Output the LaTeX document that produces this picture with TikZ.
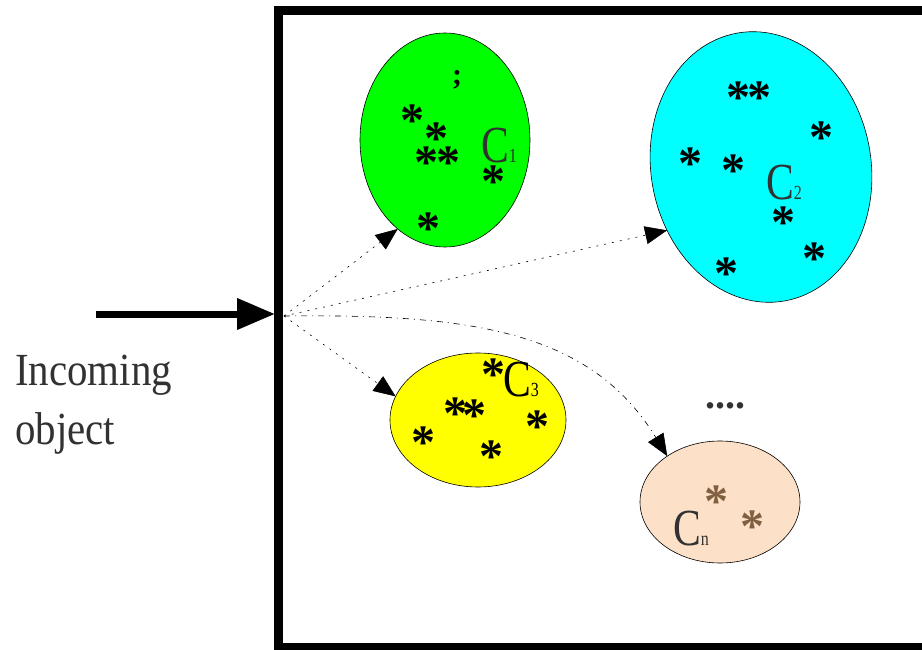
\documentclass[tikz,border=0pt]{standalone}
\usepackage{fontspec}
\setmainfont{Liberation Serif}
\usetikzlibrary{arrows.meta,shapes.geometric}
\definecolor{peach}{RGB}{252,224,200}
\definecolor{aqua}{RGB}{0,255,255}
\definecolor{lime}{RGB}{0,255,0}
\definecolor{lemon}{RGB}{255,255,0}
\definecolor{starbrown}{RGB}{128,96,64}
\definecolor{labelgray}{RGB}{50,50,50}
\begin{document}
\begin{tikzpicture}[x=1pt,y=-1pt,
  cluster/.style={ellipse,draw=black,line width=0.6pt,inner sep=0pt,outer sep=0pt},
  star/.style={font=\bfseries\fontsize{48}{48}\selectfont,anchor=base,yshift=-22pt,inner sep=0pt},
  clabel/.style={font=\fontsize{52}{52}\selectfont,xscale=0.8,anchor=base west,inner sep=0pt,text=labelgray},
  probe/.style={line width=0.6pt,dash pattern=on 2pt off 6pt,
    -{Triangle[length=22pt,width=18pt]}},
  bigarrow/.style={line width=7pt,-{Triangle[length=38pt,width=30pt]}},
]
\newcommand{\subtxt}[1]{{\fontsize{20}{20}\selectfont #1}}
\useasboundingbox (0,0) rectangle (922,650);

% frame of the classifier
\draw[line width=8.5pt] (278.5,10.5) rectangle (960,647.5);

% clusters
\node[cluster,fill=lime,minimum width=170pt,minimum height=214pt] (c1) at (445,140) {};
\node[cluster,fill=aqua,minimum width=220pt,minimum height=272pt,rotate=10] (c2) at (761,167) {};
\node[cluster,fill=lemon,minimum width=176pt,minimum height=134pt] (c3) at (478,420) {};
\node[cluster,fill=peach,minimum width=160pt,minimum height=122pt] (cn) at (720,502) {};

% members of C1
\node[font=\bfseries\fontsize{30}{30}\selectfont,inner sep=0pt] (m0) at (457,80) {;};
\node[star] (m1) at (412,115) {*};
\node[star] (m2) at (436,133) {*};
\node[star] (m3) at (426,157) {*};
\node[star] (m4) at (448,157) {*};
\node[star] (m5) at (493,175) {*};
\node[star] (m6) at (428,222) {*};
% members of C2
\node[star] (n1) at (738,92) {*};
\node[star] (n2) at (759,92) {*};
\node[star] (n3) at (821,132) {*};
\node[star] (n4) at (690,158) {*};
\node[star] (n5) at (733,165) {*};
\node[star] (n6) at (783,217) {*};
\node[star] (n7) at (814,252) {*};
\node[star] (n8) at (726,267) {*};
% members of C3
\node[star] (p1) at (493,368) {*};
\node[star] (p2) at (455,407) {*};
\node[star] (p3) at (474,409) {*};
\node[star] (p4) at (537,420) {*};
\node[star] (p5) at (423,436) {*};
\node[star] (p6) at (491,450) {*};
% members of Cn
\node[star,text=starbrown] (q1) at (716,495) {*};
\node[star,text=starbrown] (q2) at (752,520) {*};

% cluster labels
\node[clabel] (l1) at (481,163) {C\subtxt{1}};
\node[clabel] (l2) at (766,200) {C\subtxt{2}};
\node[clabel,text=black] (l3) at (503,396) {C\subtxt{3}};
\node[clabel] (ln) at (673,545) {C\subtxt{n}};

% further clusters
\node[font=\bfseries\fontsize{40}{40}\selectfont,text=labelgray,inner sep=0pt] (more) at (725,406) {....};

% incoming object
\node[font=\fontsize{46}{59}\selectfont,xscale=0.89,align=left,anchor=north west,inner sep=0pt,text=labelgray] (obj) at (15,355) {Incoming\\object};
\coordinate (src) at (96,314);
\coordinate (door) at (275,314);
\coordinate (hub) at (284,316);
\draw[bigarrow] (src) -- (door);

% candidate assignments
\draw[probe] (hub) -- (c1.242);
\draw[probe] (hub) -- (c2.204);
\draw[probe] (hub) -- (c3.164);
\draw[line width=0.6pt,dash pattern=on 6pt off 5pt on 1pt off 5pt,
  -{Triangle[length=22pt,width=18pt]}]
  (hub) .. controls (470,314) and (590,330) .. (cn.139);
\end{tikzpicture}
\end{document}
